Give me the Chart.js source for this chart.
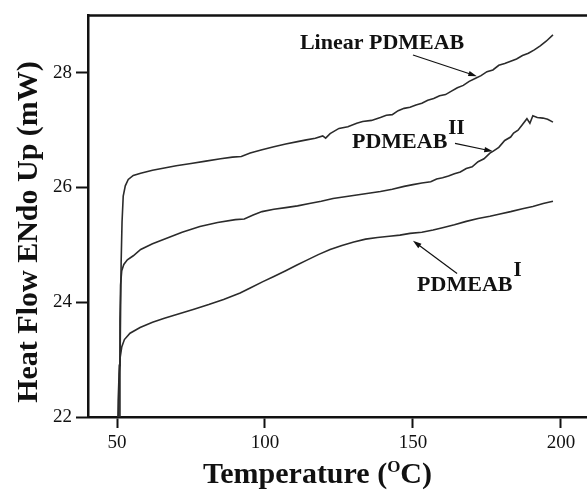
<!DOCTYPE html>
<html>
<head>
<meta charset="utf-8">
<script src="https://cdn.jsdelivr.net/npm/chart.js@4.4.1/dist/chart.umd.min.js"></script>
<style>
html, body { margin: 0; padding: 0; background: #fff; }
canvas { display: block; }
</style>
</head>
<body>
<canvas id="dsc_chart" width="587" height="490"></canvas>
<script>
// DSC traces (temperature in C, heat flow in mW)
var linearT = [50.9, 51.0, 51.2, 51.4, 51.7, 52.1, 52.8, 53.8, 55.5, 58, 62, 66, 70, 75, 80, 85, 89, 92, 95, 99,
	103, 107, 111, 114, 117, 119.5, 120.5, 122, 125, 128, 131, 133, 136, 139, 141, 143, 145, 147, 149, 151,
	153, 155, 157, 159, 161, 163, 165, 167, 169, 171, 173, 175, 177, 179, 181, 183, 185, 187, 189, 191, 193, 195, 197.3];
var linearHF = [22.0, 22.8, 23.8, 24.7, 25.4, 25.85, 26.03, 26.14, 26.21, 26.25, 26.3, 26.34, 26.38, 26.42, 26.46, 26.5, 26.53, 26.54, 26.6, 26.66,
	26.71, 26.76, 26.8, 26.83, 26.86, 26.9, 26.86, 26.94, 27.03, 27.06, 27.12, 27.15, 27.17, 27.22, 27.26, 27.27, 27.34, 27.38, 27.4, 27.44,
	27.47, 27.52, 27.55, 27.6, 27.62, 27.68, 27.74, 27.78, 27.85, 27.9, 27.95, 28.02, 28.05, 28.13, 28.16, 28.2, 28.24, 28.3, 28.34, 28.4, 28.47, 28.55, 28.66];

var pdmeab2T = [50.6, 50.8, 51.0, 51.2, 51.6, 52.3, 53.5, 55.5, 58, 62, 67, 72, 78, 84, 90, 93, 96, 99, 103, 107,
	111, 115, 119, 123, 127, 131, 135, 139, 143, 147, 150, 153, 156, 158, 160, 162, 164, 166, 168, 170,
	172, 174, 176, 177, 179, 181, 183, 184, 185.5, 187, 188.5, 189.5, 190.5, 192, 193.9, 195.5, 197.3];
var pdmeab2HF = [22.0, 22.9, 23.7, 24.3, 24.55, 24.66, 24.74, 24.81, 24.92, 25.02, 25.12, 25.22, 25.32, 25.39, 25.44, 25.45, 25.52, 25.58, 25.62, 25.65,
	25.68, 25.72, 25.76, 25.81, 25.84, 25.87, 25.9, 25.93, 25.97, 26.02, 26.05, 26.08, 26.1, 26.15, 26.17, 26.2, 26.24, 26.27, 26.33, 26.36,
	26.45, 26.5, 26.6, 26.63, 26.7, 26.82, 26.88, 26.95, 27.0, 27.1, 27.2, 27.12, 27.25, 27.22, 27.21, 27.19, 27.14];

var pdmeab1T = [50.3, 50.4, 50.7, 51.1, 51.6, 52.5, 54.4, 57.8, 62, 66, 71, 76, 81, 86, 91.6, 95, 99.3, 103, 107, 110.8,
	114, 118, 122, 126, 130, 134, 138, 142, 145.6, 149, 153, 156.8, 160, 164, 168, 172, 176, 179.4, 183, 187, 190.5, 194, 197.3];
var pdmeab1HF = [22.0, 22.3, 22.75, 23.05, 23.22, 23.35, 23.46, 23.56, 23.65, 23.72, 23.8, 23.88, 23.96, 24.05, 24.16, 24.25, 24.36, 24.45, 24.55, 24.65,
	24.73, 24.83, 24.92, 24.99, 25.05, 25.1, 25.13, 25.15, 25.17, 25.2, 25.22, 25.26, 25.3, 25.35, 25.41, 25.46, 25.5, 25.54, 25.58, 25.63, 25.67, 25.72, 25.76];

var xTickValues = [50, 100, 150, 200];
var yTickValues = [22, 24, 26, 28];

var SERIF = '"Liberation Serif", "Times New Roman", serif';
var INK = '#111';

// labels with arrows, placed in data units
var curveNotes = [
	{ text: 'Linear PDMEAB', sup: '', x: 111.8, y: 28.52, from: [150, 28.31], to: [171.6, 27.94] },
	{ text: 'PDMEAB', sup: 'II', x: 129.4, y: 26.78, from: [164.2, 26.77], to: [177.0, 26.63] },
	{ text: 'PDMEAB', sup: 'I', x: 151.4, y: 24.3, from: [164.9, 24.5], to: [150.0, 25.07] }
];

function toPoints(t, hf) {
	var pts = [];
	for (var i = 0; i < t.length; i++) {
		pts.push({ x: t[i], y: hf[i] });
	}
	return pts;
}

function traceDataset(name, t, hf) {
	return {
		label: name,
		data: toPoints(t, hf),
		borderColor: '#2b2b2b',
		borderWidth: 1.6,
		pointRadius: 0,
		tension: 0,
		fill: false
	};
}

function drawArrow(ctx, x1, y1, x2, y2) {
	var ang = Math.atan2(y2 - y1, x2 - x1);
	var head = 9;
	ctx.beginPath();
	ctx.moveTo(x1, y1);
	ctx.lineTo(x2 - Math.cos(ang) * head * 0.6, y2 - Math.sin(ang) * head * 0.6);
	ctx.stroke();
	ctx.beginPath();
	ctx.moveTo(x2, y2);
	ctx.lineTo(x2 - head * Math.cos(ang - 0.3), y2 - head * Math.sin(ang - 0.3));
	ctx.lineTo(x2 - head * Math.cos(ang + 0.3), y2 - head * Math.sin(ang + 0.3));
	ctx.closePath();
	ctx.fill();
}

var figureExtras = {
	id: 'figureExtras',
	afterDraw: function(chart) {
		var ctx = chart.ctx;
		var area = chart.chartArea;
		var xs = chart.scales.x;
		var ys = chart.scales.y;
		ctx.save();
		ctx.fillStyle = INK;
		ctx.strokeStyle = INK;

		// top frame line (no right edge in the original)
		ctx.lineWidth = 2.5;
		ctx.beginPath();
		ctx.moveTo(area.left - 1, area.top);
		ctx.lineTo(chart.width, area.top);
		ctx.stroke();

		// curve labels + arrows
		ctx.lineWidth = 1.2;
		curveNotes.forEach(function(n) {
			var px = xs.getPixelForValue(n.x);
			var py = ys.getPixelForValue(n.y);
			ctx.font = 'bold 22px ' + SERIF;
			ctx.textAlign = 'left';
			ctx.textBaseline = 'middle';
			ctx.fillText(n.text, px, py);
			if (n.sup) {
				var w = ctx.measureText(n.text).width;
				ctx.font = 'bold 21px ' + SERIF;
				ctx.fillText(n.sup, px + w + 1, py - 14);
			}
			drawArrow(ctx,
				xs.getPixelForValue(n.from[0]), ys.getPixelForValue(n.from[1]),
				xs.getPixelForValue(n.to[0]), ys.getPixelForValue(n.to[1]));
		});

		// x axis title with superscript O
		ctx.textBaseline = 'alphabetic';
		ctx.textAlign = 'left';
		var bx = 203, by = 483;
		ctx.font = 'bold 30px ' + SERIF;
		var partA = 'Temperature (';
		ctx.fillText(partA, bx, by);
		bx += ctx.measureText(partA).width;
		ctx.font = 'bold 17px ' + SERIF;
		ctx.fillText('O', bx, by - 11);
		bx += ctx.measureText('O').width;
		ctx.font = 'bold 30px ' + SERIF;
		ctx.fillText('C)', bx, by);

		// y axis title
		ctx.translate(37, 232);
		ctx.rotate(-Math.PI / 2);
		ctx.textAlign = 'center';
		ctx.font = 'bold 30px ' + SERIF;
		ctx.fillText('Heat Flow ENdo Up (mW)', 0, 0);
		ctx.restore();
	}
};

var dscChart = new Chart(document.getElementById('dsc_chart'), {
	type: 'line',
	data: {
		datasets: [
			traceDataset('Linear PDMEAB', linearT, linearHF),
			traceDataset('PDMEAB II', pdmeab2T, pdmeab2HF),
			traceDataset('PDMEAB I', pdmeab1T, pdmeab1HF)
		]
	},
	options: {
		responsive: false,
		animation: false,
		devicePixelRatio: 1,
		layout: { padding: { left: 0, right: 0, top: 14, bottom: 0 } },
		plugins: {
			legend: { display: false },
			tooltip: { enabled: false }
		},
		scales: {
			x: {
				type: 'linear',
				min: 40.2,
				max: 208.8,
				afterBuildTicks: function(scale) {
					scale.ticks = xTickValues.map(function(v) { return { value: v }; });
				},
				afterFit: function(scale) { scale.height = 73; },
				ticks: {
					padding: 4,
					color: INK,
					maxRotation: 0,
					font: { family: SERIF, size: 19 }
				},
				grid: { drawOnChartArea: false, tickLength: 11, tickWidth: 2, tickColor: INK },
				border: { display: true, color: INK, width: 2.5 }
			},
			y: {
				type: 'linear',
				min: 22,
				max: 29,
				afterBuildTicks: function(scale) {
					scale.ticks = yTickValues.map(function(v) { return { value: v }; });
				},
				afterFit: function(scale) { scale.width = 88; },
				ticks: {
					padding: 4,
					color: INK,
					font: { family: SERIF, size: 19 }
				},
				grid: { drawOnChartArea: false, tickLength: 12, tickWidth: 2, tickColor: INK },
				border: { display: true, color: INK, width: 2.5 }
			}
		}
	},
	plugins: [figureExtras]
});
</script>
</body>
</html>
